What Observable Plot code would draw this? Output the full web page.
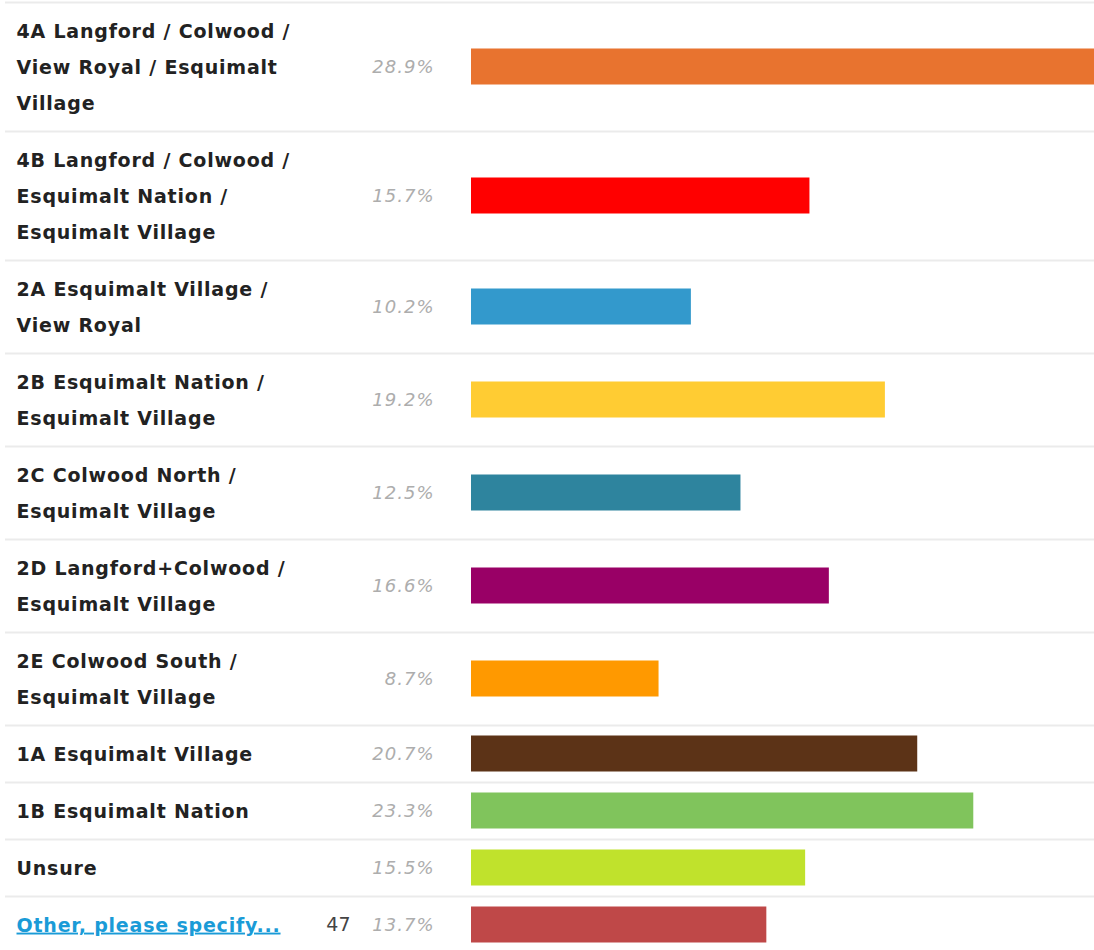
<!DOCTYPE html>
<html>
<head>
<meta charset="utf-8">
<script src="https://cdn.jsdelivr.net/npm/d3@7"></script>
<script src="https://cdn.jsdelivr.net/npm/@observablehq/plot@0.6"></script>
<style>
  html, body { margin: 0; padding: 0; background: #fff; }
  #chart svg { display: block; }
</style>
</head>
<body>
<div id="chart"></div>
<script>
// ---- data ----
const labels = [
  ["4A Langford / Colwood /", "View Royal / Esquimalt", "Village"],
  ["4B Langford / Colwood /", "Esquimalt Nation /", "Esquimalt Village"],
  ["2A Esquimalt Village /", "View Royal"],
  ["2B Esquimalt Nation /", "Esquimalt Village"],
  ["2C Colwood North /", "Esquimalt Village"],
  ["2D Langford+Colwood /", "Esquimalt Village"],
  ["2E Colwood South /", "Esquimalt Village"],
  ["1A Esquimalt Village"],
  ["1B Esquimalt Nation"],
  ["Unsure"],
  ["Other, please specify..."]
];
const percents = [28.9, 15.7, 10.2, 19.2, 12.5, 16.6, 8.7, 20.7, 23.3, 15.5, 13.7];
const counts = [null, null, null, null, null, null, null, null, null, null, 47];
const colors = ["#E8732F", "#FF0000", "#3399CC", "#FFCC33", "#2E849E", "#990066",
                "#FF9900", "#5C3317", "#80C45C", "#C0E22C", "#BF4848"];
const isLink = [false, false, false, false, false, false, false, false, false, false, true];

// ---- layout derived from line counts ----
const W = 1094, H = 950;
const top0 = 2, lineStep = 36.3, rowPad = 21, firstLine = 29, barH = 36;
let cursor = top0;
const rows = labels.map((lines, i) => {
  const h = lines.length * 36 + rowPad;
  const r = {i, lines, top: cursor, bottom: cursor + h, center: cursor + h / 2,
             pct: percents[i], count: counts[i], color: colors[i], link: isLink[i]};
  cursor += h;
  return r;
});
const lineRows = rows.flatMap(r => r.lines.map((t, j) => ({
  text: t, y: r.top + firstLine + j * lineStep, link: r.link
})));

const fontFamily = "DejaVu Sans, Verdana, sans-serif";

const plot = Plot.plot({
  width: W,
  height: H,
  margin: 0,
  style: {background: "#fff", fontFamily},
  x: {domain: [0, 28.9], range: [471, W], axis: null},
  y: {domain: [0, H], range: [0, H], axis: null},
  marks: [
    Plot.ruleY(rows, {y: "top", stroke: "#ebebeb", strokeWidth: 2, insetLeft: 5}),
    Plot.rect(rows, {x1: 0, x2: "pct", y1: d => d.center - barH / 2, y2: d => d.center + barH / 2,
                     fill: "color"}),
    Plot.text(lineRows.filter(d => !d.link), {
      text: "text", y: "y", frameAnchor: "left", dx: 16, textAnchor: "start",
      fontSize: 19, fontWeight: "bold", fill: "#222", fontFamily
    }),
    Plot.text(lineRows.filter(d => d.link), {
      text: "text", y: "y", frameAnchor: "left", dx: 16, textAnchor: "start",
      fontSize: 19, fontWeight: "bold", fill: "#1A9BD7", fontFamily
    }),
    Plot.text(rows.filter(d => d.count != null), {
      text: d => String(d.count), y: "center", frameAnchor: "left", dx: 350, textAnchor: "end",
      fontSize: 19, fill: "#444", fontFamily
    }),
    Plot.text(rows, {
      text: d => d.pct.toFixed(1) + "%", y: "center", frameAnchor: "left", dx: 434, textAnchor: "end",
      fontSize: 18, fontStyle: "italic", fill: "#adadad", fontFamily
    })
  ]
});

const textGroups = d3.select(plot).selectAll("g[aria-label='text']").nodes();
const spacing = ["0.8px", "0.8px", "0px", "1px"];
textGroups.forEach((g, k) => d3.select(g).style("letter-spacing", spacing[k] || "0px"));

d3.select(plot).selectAll("text")
  .filter(function() { return this.textContent === "Other, please specify..."; })
  .style("text-decoration", "underline");

document.getElementById("chart").appendChild(plot);
</script>
</body>
</html>
